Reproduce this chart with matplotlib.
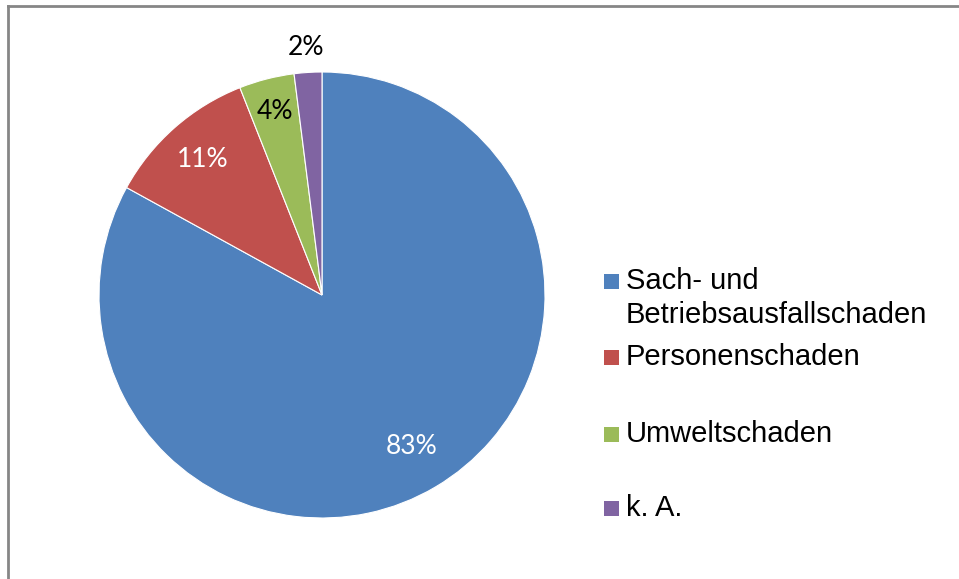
import matplotlib
matplotlib.use('Agg')
import matplotlib.pyplot as plt
import numpy as np
from matplotlib.patches import Rectangle
from matplotlib.lines import Line2D

# data
categories = ['Sach- und\nBetriebsausfallschaden', 'Personenschaden', 'Umweltschaden', 'k. A.']
shares = [83, 11, 4, 2]
colors = ['#4F81BD', '#C0504D', '#9BBB59', '#8064A2']
label_colors = ['white', 'white', 'black', 'black']
label_dist = [0.79, 0.81, 0.85, 1.11]

W, H = 959, 579
fig = plt.figure(figsize=(W / 100, H / 100), dpi=100)

# pie area: center (322, 295) px, radius 223 px
cx, cy, r = 322, 295, 223
ax = fig.add_axes([(cx - r) / W, (H - cy - r) / H, 2 * r / W, 2 * r / H])
wedges, _ = ax.pie(shares, colors=colors, startangle=90, counterclock=False,
                   wedgeprops=dict(edgecolor='white', linewidth=0.8))
ax.set_xlim(-1, 1)
ax.set_ylim(-1, 1)
ax.set_aspect('equal')
ax.axis('off')

# data labels
for w, val, col, d in zip(wedges, shares, label_colors, label_dist):
    ang = np.deg2rad((w.theta1 + w.theta2) / 2)
    ax.text(d * np.cos(ang), d * np.sin(ang), f'{val}%', ha='center', va='center',
            color=col, fontsize=19, family='Lato')

# legend, drawn by hand to keep Excel's spacing (baselines in px from top)
leg_base = [289, 365, 442, 516]
line_gap = 34
for lab, col, yb in zip(categories, colors, leg_base):
    fig.patches.append(Rectangle((604 / W, 1 - yb / H), 15 / W, 15 / H,
                                 transform=fig.transFigure, facecolor=col, edgecolor='none'))
    for i, line in enumerate(lab.split('\n')):
        fig.text(626 / W, 1 - (yb + i * line_gap) / H, line, ha='left', va='baseline',
                 fontsize=21, family='Liberation Sans')

# outer frame (top and left visible)
fig.lines.append(Line2D([8 / W, 1], [1 - 6 / H, 1 - 6 / H], transform=fig.transFigure,
                        color='#868686', linewidth=2))
fig.lines.append(Line2D([8 / W, 8 / W], [0, 1 - 6 / H], transform=fig.transFigure,
                        color='#868686', linewidth=2))

fig.savefig('out.png', dpi=100)
